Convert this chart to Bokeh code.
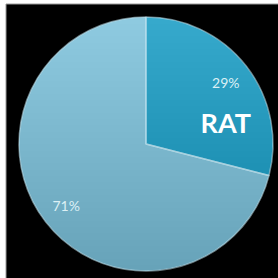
import math
from bokeh.plotting import figure
from bokeh.models import ColumnDataSource, Range1d
from bokeh.core.properties import value
from bokeh.embed import file_html
from bokeh.resources import INLINE

categories = ["RAT", "Other"]
shares = [29, 71]
colors = ["#36a9cc", "#8ecae0"]
show_name = [True, False]

S = 278  # reference space
W = H = 278
p = figure(width=W, height=H, output_backend="svg", toolbar_location=None,
           x_range=Range1d(0, S), y_range=Range1d(0, S), min_border=0,
           background_fill_color="white", border_fill_color="white")
p.axis.visible = False
p.grid.visible = False
p.outline_line_color = None

# black panel with thin grey frame
p.quad(left=[5.5], right=[S + 2], bottom=[-2], top=[S - 3.5],
       fill_color="black", line_color="#9a9a9a", line_width=1)

cx, cy, r = 145.5, 134.5, 127
total = sum(shares)
starts, ends = [], []
acc = 0
for s in shares:
    starts.append(math.pi / 2 - 2 * math.pi * acc / total)
    acc += s
    ends.append(math.pi / 2 - 2 * math.pi * acc / total)

src = ColumnDataSource(dict(start=starts, end=ends, color=colors))
p.wedge(x=cx, y=cy, radius=r, start_angle="start", end_angle="end",
        direction="clock", fill_color="color", line_color=None, source=src)

# vertical shading: stacked translucent black layers darken toward the bottom
n = 40
step = 2 * r / n
tops = [cy + r - k * step for k in range(1, n)]
p.quad(left=cx - r - 1, right=cx + r + 1, top=tops, bottom=cy - r - 1,
       fill_color="black", fill_alpha=0.0058, line_color=None)

# light bevel along slice borders
p.wedge(x=cx, y=cy, radius=r, start_angle="start", end_angle="end",
        direction="clock", fill_color=None, line_color="#c4e6f0",
        line_alpha=0.55, line_width=1.5, source=src)

# labels
lr = 101
for i, s in enumerate(shares):
    mid = (starts[i] + ends[i]) / 2
    lx = cx + lr * math.cos(mid)
    ly = cy + lr * math.sin(mid)
    p.text(x=[lx], y=[ly], text=[f"{s}%"], text_align="center",
           text_baseline="middle", text_color="#dcf0f5",
           text_font=value("Lato"), text_font_size="14px")
    if show_name[i]:
        p.text(x=[lx], y=[ly - 40], text=[categories[i]], text_align="center",
               text_baseline="middle", text_color="white",
               text_font=value("Lato"), text_font_style="bold",
               text_font_size="27px")

open("out.html", "w").write(file_html(p, INLINE))
